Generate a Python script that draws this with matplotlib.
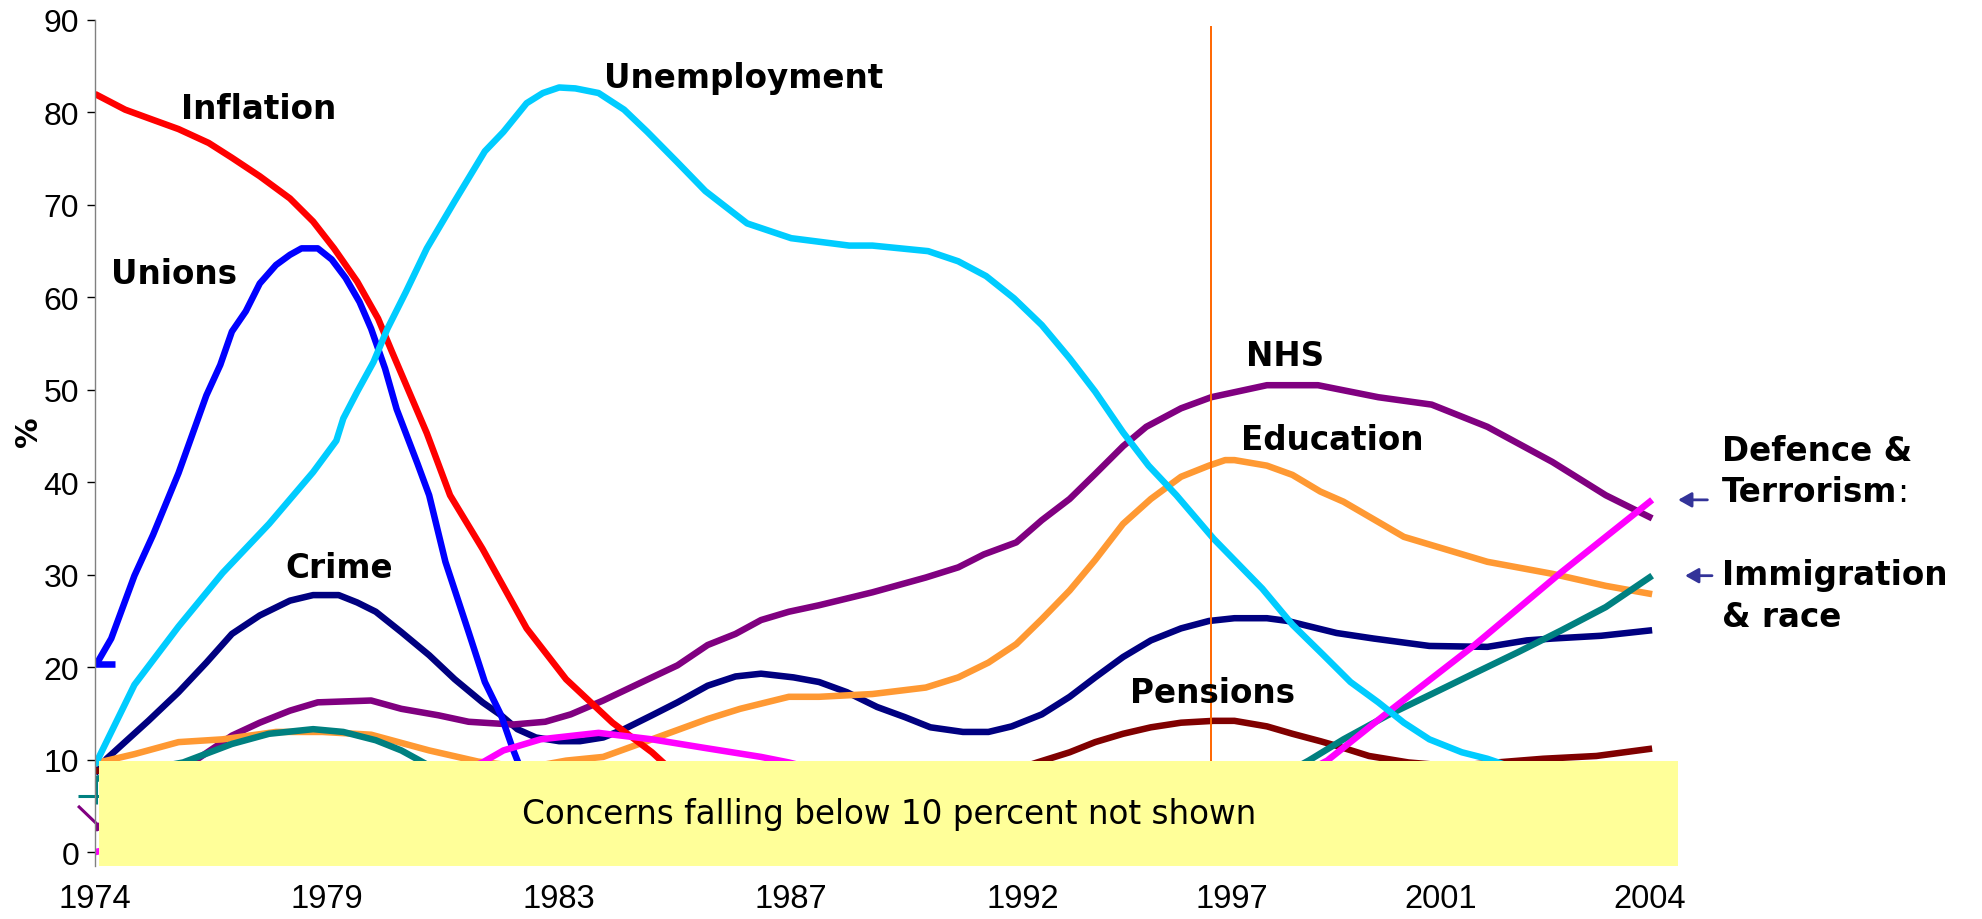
import numpy as np
import matplotlib.pyplot as plt
from matplotlib.patches import Rectangle

nan = np.nan

# category axis: one step per survey, year labels on selected surveys
tick_pos = [0, 10, 20, 30, 40, 49, 58, 67]
tick_years = ['1974', '1979', '1983', '1987', '1992', '1997', '2001', '2004']
election_pos = 48.1

inflation_x = [0, 1.3, 2.5, 3.6, 4.9, 5.9, 7.1, 8.4, 9.4, 10.3, 11.3, 12.2, 12.8, 13.6,
               14.3, 15.3, 16.7, 18.6, 20.3, 22.3, 24.0, 25.0]
inflation_y = [82, 80.3, 79.2, 78.2, 76.7, 75.1, 73.1, 70.7, 68.2, 65.3, 61.7, 57.7, 54.1, 49.4,
               45.3, 38.6, 32.8, 24.2, 18.7, 14.0, 10.8, 8.5]

unions_x = [0, 0.1, 0.7, 1.7, 2.5, 3.6, 4.8, 5.4, 5.9, 6.5, 7.1, 7.8, 8.4, 8.9, 9.6, 10.2,
            10.8, 11.4, 11.9, 12.5, 13.0, 13.9, 14.4, 15.1, 16.1, 16.8, 17.5, 18.0, 18.5]
unions_y = [20.3, 20.5, 23.1, 29.9, 34.3, 41.0, 49.4, 52.7, 56.3, 58.5, 61.5, 63.5, 64.6, 65.3,
            65.3, 64.1, 62.1, 59.5, 56.6, 52.3, 47.9, 42.0, 38.6, 31.4, 23.8, 18.4, 14.8, 11.2, 8.0]

unemployment_x = [0, 1.7, 3.6, 5.5, 7.5, 9.4, 10.4, 10.7, 11.3, 12.0, 12.6, 13.4, 14.3, 15.5,
                  16.8, 17.6, 18.6, 19.3, 20.0, 20.7, 21.7, 22.8, 23.8, 25.1, 26.3, 28.1, 30.0,
                  32.5, 33.5, 35.9, 37.2, 38.4, 39.6, 40.8, 42.0, 43.1, 44.3, 45.4, 46.6, 48.2,
                  50.3, 51.6, 52.9, 54.1, 55.3, 56.4, 57.5, 58.9, 60.0, 60.7, 61.5]
unemployment_y = [9.4, 18.1, 24.4, 30.2, 35.5, 41.1, 44.5, 46.9, 49.8, 53.0, 56.6, 60.6, 65.3, 70.4,
                  75.8, 77.9, 81.0, 82.1, 82.7, 82.6, 82.1, 80.3, 77.9, 74.6, 71.5, 68.0, 66.4,
                  65.6, 65.6, 65.0, 63.9, 62.3, 59.9, 57.0, 53.4, 49.8, 45.4, 41.8, 38.6, 33.9,
                  28.5, 24.6, 21.4, 18.4, 16.2, 14.0, 12.2, 10.8, 10.1, 9.5, 8.5]

crime_x = [0, 0.5, 2.3, 3.6, 4.8, 5.9, 7.1, 8.4, 9.4, 10.5, 11.3, 12.1, 13.2, 14.4, 15.5, 16.7,
           17.5, 18.2, 19.0, 20.0, 20.9, 21.9, 22.8, 24.0, 25.1, 26.4, 27.6, 28.7, 30.1, 31.2,
           32.4, 33.7, 34.9, 36.0, 37.4, 38.5, 39.5, 40.8, 42.0, 43.1, 44.3, 45.5, 46.8, 48.0,
           49.1, 50.5, 51.4, 52.2, 53.5, 55.1, 57.5, 60.0, 61.7, 62.8, 64.9, 67.1]
crime_y = [8.5, 10.1, 14.2, 17.3, 20.5, 23.6, 25.6, 27.2, 27.8, 27.8, 27.0, 26.0, 23.8, 21.3, 18.7,
           16.2, 14.8, 13.3, 12.4, 12.0, 12.0, 12.4, 13.3, 14.8, 16.2, 18.0, 19.0, 19.3, 18.9,
           18.4, 17.3, 15.7, 14.6, 13.5, 13.0, 13.0, 13.6, 14.9, 16.8, 18.9, 21.1, 22.9, 24.2,
           25.0, 25.3, 25.3, 25.0, 24.5, 23.7, 23.1, 22.3, 22.2, 22.9, 23.1, 23.4, 24.0]

nhs_x = [0, 4.2, 5.9, 7.1, 8.4, 9.6, 11.9, 13.2, 14.8, 16.1, 18.0, 19.4, 20.5, 21.9, 24.0, 25.1,
         26.4, 27.6, 28.7, 29.9, 31.2, 33.5, 35.8, 37.2, 38.3, 39.7, 40.8, 42.0, 43.1, 44.3,
         45.3, 46.8, 48.1, 50.5, 52.7, 55.3, 57.6, 60.0, 62.8, 65.1, 67.1]
nhs_y = [2.5, 9.7, 12.6, 14.0, 15.3, 16.2, 16.4, 15.5, 14.8, 14.1, 13.8, 14.1, 14.9, 16.4, 18.9,
         20.2, 22.4, 23.6, 25.1, 26.0, 26.7, 28.1, 29.7, 30.8, 32.2, 33.5, 35.9, 38.2, 40.9,
         43.9, 46.0, 48.0, 49.2, 50.5, 50.5, 49.2, 48.4, 46.0, 42.2, 38.6, 36.1]

education_x = [0, 1.7, 3.6, 5.5, 7.8, 9.8, 11.9, 14.4, 16.5, 17.5, 19.0, 20.3, 21.9, 24.0, 26.4,
               27.8, 29.9, 31.2, 33.5, 35.8, 37.2, 38.5, 39.7, 40.8, 42.0, 43.1, 44.3, 45.5,
               46.8, 48.0, 48.7, 49.1, 50.5, 51.6, 52.8, 53.8, 56.4, 57.6, 60.0, 62.8, 65.1, 67.1]
education_y = [9.6, 10.6, 11.9, 12.2, 13.0, 13.0, 12.7, 11.0, 9.8, 9.5, 9.3, 9.9, 10.3, 12.2, 14.4,
               15.5, 16.8, 16.8, 17.1, 17.8, 18.9, 20.5, 22.5, 25.2, 28.3, 31.6, 35.5, 38.2,
               40.6, 41.8, 42.4, 42.4, 41.8, 40.8, 39.0, 37.9, 34.1, 33.2, 31.4, 30.1, 28.8, 27.9]

pensions_x = [0, 40.0, 40.6, 42.0, 43.1, 44.3, 45.5, 46.8, 48.2, 49.1, 50.5, 51.6, 52.8, 53.5,
              54.9, 56.6, 58.5, 60.4, 62.4, 64.7, 67.1]
pensions_y = [8.8, 9.2, 9.7, 10.8, 11.9, 12.8, 13.5, 14.0, 14.2, 14.2, 13.6, 12.8, 12.0, 11.5,
              10.4, 9.7, 9.3, 9.7, 10.1, 10.4, 11.2]

immigration_x = [0, 3.8, 5.9, 7.5, 9.4, 10.7, 12.1, 13.2, 14.0, 15.0, nan,
                 51.5, 52.3, 53.8, 55.7, 57.6, 59.4, 61.3, 63.2, 65.1, 67.1]
immigration_y = [7.9, 9.7, 11.7, 12.8, 13.3, 13.0, 12.1, 11.0, 9.9, 8.5, nan,
                 8.8, 9.9, 12.2, 14.8, 17.1, 19.3, 21.6, 24.0, 26.5, 29.9]

defence_x = [0, 15.5, 16.7, 17.6, 19.2, 21.7, 24.0, 26.2, 28.7, 29.9, 31.0, nan,
             52.0, 53.1, 55.7, 59.4, 63.2, 67.1]
defence_y = [0, 8.5, 9.7, 11.0, 12.2, 12.9, 12.2, 11.3, 10.3, 9.7, 9.0, nan,
             8.5, 9.9, 15.1, 22.3, 30.3, 38.1]

# short pieces where some lines begin, left of and along the value axis
stubs = [
    ([0, 0.86], [20.3, 20.3], '#0000FF', 4.7),
    ([-0.75, 0.17], [6.1, 6.1], '#008080', 2.2),
    ([0.05, 0.05], [7.9, 5.2], '#008080', 2.2),
    ([-0.73, 0.1, 0.1], [5.0, 3.0, 2.3], '#800080', 2.2),
]

series = [
    (crime_x, crime_y, '#000080'),
    (nhs_x, nhs_y, '#800080'),
    (education_x, education_y, '#FF9933'),
    (pensions_x, pensions_y, '#800000'),
    (inflation_x, inflation_y, '#FF0000'),
    (unions_x, unions_y, '#0000FF'),
    (immigration_x, immigration_y, '#008080'),
    (defence_x, defence_y, '#FF00FF'),
    (unemployment_x, unemployment_y, '#00CCFF'),
]

labels = [
    ('Inflation', 3.7, 80.4),
    ('Unions', 0.7, 62.6),
    ('Unemployment', 21.95, 83.8),
    ('Crime', 8.2, 30.8),
    ('NHS', 49.6, 53.7),
    ('Education', 49.4, 44.6),
    ('Pensions', 44.6, 17.3),
]

fig = plt.figure(figsize=(19.83, 9.2), dpi=100)
ax = fig.add_axes([0.0479, 0.0576, 0.7993, 0.9196])

for xs, ys, col in series:
    ax.plot(xs, ys, color=col, lw=4.7, solid_capstyle='butt', zorder=2)

for xs, ys, col, w in stubs:
    ax.plot(xs, ys, color=col, lw=w, solid_capstyle='butt', clip_on=False, zorder=2)

ax.plot([election_pos, election_pos], [-1.5, 89.2], color='#FF6600', lw=1.4, zorder=3)

# yellow panel hiding everything below ten percent
ax.add_patch(Rectangle((0.17, -1.5), 68.03, 11.35, facecolor='#FFFF99', edgecolor='none',
                       clip_on=False, zorder=4))
ax.text(34.2, 4.2, 'Concerns falling below 10 percent not shown', ha='center', va='center',
        fontsize=23.5, family='DejaVu Sans', zorder=5)

for name, lx, ly in labels:
    ax.text(lx, ly, name, ha='left', va='center', fontsize=23.5, fontweight='bold',
            family='DejaVu Sans', zorder=6)

bold = dict(fontsize=23.5, fontweight='bold', family='DejaVu Sans')
ax.text(70.1, 43.4, 'Defence &', ha='left', va='center', clip_on=False, **bold)
t = ax.text(70.1, 39.0, 'Terrorism', ha='left', va='center', clip_on=False, **bold)
ax.annotate(':', xy=(1, 0.5), xycoords=t, ha='left', va='center', fontsize=23.5,
            family='DejaVu Sans')
ax.text(70.1, 30.0, 'Immigration', ha='left', va='center', clip_on=False, **bold)
ax.text(70.1, 25.5, '& race', ha='left', va='center', clip_on=False, **bold)

arrow = dict(arrowstyle='-|>,head_length=0.8,head_width=0.45', color='#333399', lw=2)
ax.annotate('', xy=(68.1, defence_y[-1]), xytext=(69.6, defence_y[-1]),
            arrowprops=arrow, annotation_clip=False)
ax.annotate('', xy=(68.4, immigration_y[-1]), xytext=(69.8, immigration_y[-1]),
            arrowprops=arrow, annotation_clip=False)

ax.set_xlim(0, 68.3)
ax.set_ylim(-1.5, 90)
ax.set_yticks(range(0, 91, 10))
ax.set_xticks(tick_pos)
ax.set_xticklabels(tick_years)
ax.tick_params(axis='y', length=6, width=1, pad=5.5, labelsize=23, labelfontfamily='Liberation Sans')
ax.tick_params(axis='x', length=0, pad=12, labelsize=23.5, labelfontfamily='Liberation Sans')

for side in ['top', 'right', 'bottom']:
    ax.spines[side].set_visible(False)
ax.spines['left'].set_color('#808080')
ax.spines['left'].set_linewidth(1)

fig.text(29 / 1983, 1 - 432 / 920, '%', rotation=90, ha='center', va='center',
         fontsize=22, fontweight='bold', family='DejaVu Sans')

fig.savefig('out.png', dpi=100)
